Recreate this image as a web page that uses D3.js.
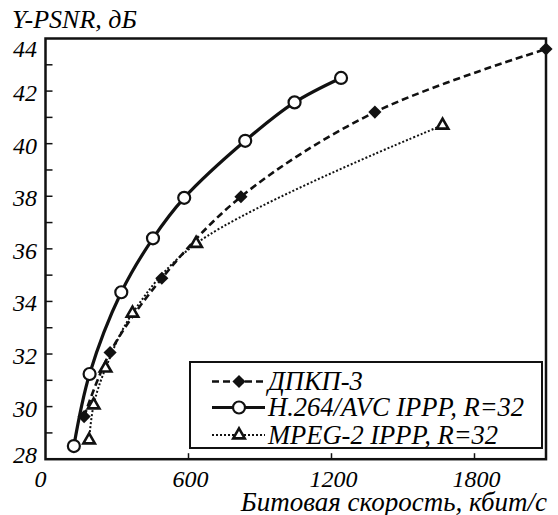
<!DOCTYPE html>
<html>
<head>
<meta charset="utf-8">
<script src="https://cdn.jsdelivr.net/npm/d3@7"></script>
<style>
  body { margin: 0; background: #fff; }
</style>
</head>
<body>
<div id="chart"></div>
<script>
// ---- data ----
var dpkpRate  = [162, 271, 488, 820, 1382, 2100];
var dpkpPsnr  = [29.62, 32.06, 34.88, 37.98, 41.2, 43.6];
var h264Rate  = [119, 185, 318, 451, 582, 838, 1045, 1240];
var h264Psnr  = [28.5, 31.24, 34.35, 36.4, 37.94, 40.11, 41.57, 42.5];
var mpegRate  = [183, 202, 252, 365, 632, 1666];
var mpegPsnr  = [28.73, 30.06, 31.46, 33.55, 36.2, 40.7];
var xTickVals = [0, 600, 1200, 1800];
var yTickVals = [28, 30, 32, 34, 36, 38, 40, 42, 44];
var seriesNames = ['ДПКП-3', 'H.264/AVC IPPP, R=32', 'MPEG-2 IPPP, R=32'];

var W = 558, H = 515;
var FONT = "'Liberation Serif', 'Times New Roman', serif";
var svg = d3.select('#chart').append('svg').attr('width', W).attr('height', H)
  .attr('font-family', FONT).attr('font-style', 'italic');

var x = d3.scaleLinear().domain([0, 2100]).range([45.5, 546]);
var y = d3.scaleLinear().domain([28, 44]).range([459.2, 38.5]);

// frame
svg.append('rect')
  .attr('x', x(0)).attr('y', y(44))
  .attr('width', x(2100) - x(0)).attr('height', y(28) - y(44))
  .attr('fill', 'none').attr('stroke', '#111').attr('stroke-width', 2.5);

// y minor ticks (inward)
svg.append('g').selectAll('line').data(d3.range(29, 44, 1))
  .enter().append('line')
  .attr('x1', x(0)).attr('x2', x(0) + 7)
  .attr('y1', function(d){ return y(d); }).attr('y2', function(d){ return y(d); })
  .attr('stroke', '#111').attr('stroke-width', 1.5);

// y labels (end ones pushed inside the frame)
svg.append('g').selectAll('text').data(yTickVals)
  .enter().append('text')
  .attr('x', 37)
  .attr('y', function(d){
    var off = d === 44 ? 18 : (d === 28 ? 3.5 : 10);
    return y(d) + off;
  })
  .attr('text-anchor', 'end').attr('font-size', 24)
  .text(function(d){ return d; });

// x ticks (inward)
svg.append('g').selectAll('line').data(xTickVals.slice(1))
  .enter().append('line')
  .attr('x1', function(d){ return x(d); }).attr('x2', function(d){ return x(d); })
  .attr('y1', y(28)).attr('y2', y(28) - 6)
  .attr('stroke', '#111').attr('stroke-width', 1.5);

svg.append('g').selectAll('text').data(xTickVals)
  .enter().append('text')
  .attr('x', function(d){ return d === 0 ? x(d) - 5 : x(d) + 2; }).attr('y', 487)
  .attr('text-anchor', 'middle').attr('font-size', 24)
  .text(function(d){ return d; });

// axis titles
svg.append('text').attr('x', 547).attr('y', 511).attr('text-anchor', 'end')
  .attr('font-size', 27).text('Битовая скорость, кбит/с');
svg.append('text').attr('x', 12).attr('y', 28)
  .attr('font-size', 26).text('Y-PSNR, дБ');

// lines
var line = d3.line()
  .x(function(d){ return x(d[0]); })
  .y(function(d){ return y(d[1]); })
  .curve(d3.curveCatmullRom.alpha(0.5));

var dpkp = d3.zip(dpkpRate, dpkpPsnr);
var h264 = d3.zip(h264Rate, h264Psnr);
var mpeg = d3.zip(mpegRate, mpegPsnr);

svg.append('path').datum(mpeg).attr('d', line)
  .attr('fill', 'none').attr('stroke', '#111').attr('stroke-width', 2)
  .attr('stroke-dasharray', '2,2');
svg.append('path').datum(dpkp).attr('d', line)
  .attr('fill', 'none').attr('stroke', '#111').attr('stroke-width', 2.6)
  .attr('stroke-dasharray', '7,4');
svg.append('path').datum(h264).attr('d', line)
  .attr('fill', 'none').attr('stroke', '#111').attr('stroke-width', 3.2);

// markers
var diamond = d3.symbol().type(d3.symbolDiamond2).size(110);
var tri = d3.symbol().type(d3.symbolTriangle2).size(95);

function drawDiamond(g, px, py) {
  g.append('path').attr('d', diamond).attr('transform', 'translate(' + px + ',' + py + ')')
    .attr('fill', '#111');
}
function drawCircle(g, px, py) {
  g.append('circle').attr('cx', px).attr('cy', py).attr('r', 6)
    .attr('fill', '#fff').attr('stroke', '#111').attr('stroke-width', 2.2);
}
function drawTri(g, px, py) {
  g.append('path').attr('d', tri).attr('transform', 'translate(' + px + ',' + py + ')')
    .attr('fill', '#fff').attr('stroke', '#111').attr('stroke-width', 2.6)
    .attr('stroke-linejoin', 'miter');
}

var mk = svg.append('g');
mpeg.forEach(function(d){ drawTri(mk, x(d[0]), y(d[1])); });
dpkp.forEach(function(d){ drawDiamond(mk, x(d[0]), y(d[1])); });
h264.forEach(function(d){ drawCircle(mk, x(d[0]), y(d[1])); });

// legend
var lg = svg.append('g');
lg.append('rect').attr('x', 190).attr('y', 362).attr('width', 352).attr('height', 86)
  .attr('fill', '#fff').attr('stroke', '#111').attr('stroke-width', 2);

var rows = [381.5, 407.5, 435];
var styles = [
  { w: 2.6, dash: '7,4', draw: drawDiamond },
  { w: 3.2, dash: null, draw: drawCircle },
  { w: 2, dash: '2,2', draw: drawTri }
];
rows.forEach(function(ry, i) {
  var l = lg.append('line').attr('x1', 212).attr('x2', 265).attr('y1', ry).attr('y2', ry)
    .attr('stroke', '#111').attr('stroke-width', styles[i].w);
  if (styles[i].dash) l.attr('stroke-dasharray', styles[i].dash);
  styles[i].draw(lg, 239, ry);
  lg.append('text').attr('x', 268).attr('y', ry + 8.5).attr('font-size', 26.5).text(seriesNames[i]);
});
</script>
</body>
</html>
